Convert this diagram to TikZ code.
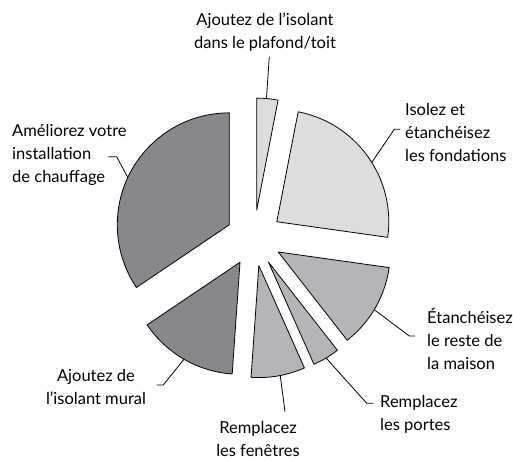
\documentclass[tikz,border=0pt]{standalone}
\usepackage{fontspec}
\setmainfont{Lato}
\usepackage{xcolor}
\usepackage{tikz}
\usetikzlibrary{calc}

\definecolor{pale}{HTML}{DCDDDF}
\definecolor{mid}{HTML}{B4B5B8}
\definecolor{dark}{HTML}{87888B}

\begin{document}
\begin{tikzpicture}[x=1pt,y=1pt,
		part/.style={draw=black,line width=0.8pt,line join=round},
		lead/.style={draw=black,line width=0.8pt},
		lbl/.style={inner sep=0pt,font=\fontsize{16.5}{23}\selectfont}]
		\useasboundingbox (0,0) rectangle (513,460);
		\def\rr{112}
		\coordinate (c) at (254,222);
		% each slice pulled 28 out along its middle
		\foreach \a/\b/\col/\n in {79/90/pale/plaf,-8/79/pale/fond,-52/-8/mid/reste,-66/-52/mid/port,-94/-66/mid/fen,-146/-94/dark/mur,90/214/dark/chauf}{
			\coordinate (\n) at ($(c)+({(\a+\b)/2}:28)$);
			\draw [part,fill=\col] (\n) -- ++(\a:\rr) arc [start angle=\a,end angle=\b,radius=\rr] -- cycle;
		}
		% labels
		\node [lbl,anchor=north,align=center] (tplaf) at (265,447.2) {Ajoutez de l’isolant\\dans le plafond/toit};
		\node [lbl,anchor=north west,align=left] (tfond) at (405,356.5) {Isolez et\\étanchéisez\\les fondations};
		\node [lbl,anchor=north west,align=left] (tchauf) at (12,335.9) {Améliorez votre\\installation\\de chauffage};
		\node [lbl,anchor=north west,align=left] (treste) at (427,152.2) {Étanchéisez\\le reste de\\la maison};
		\node [lbl,anchor=north west,align=left] (tport) at (380,64.5) {Remplacez\\les portes};
		\node [lbl,anchor=north,align=center] (tmur) at (96,90.5) {Ajoutez de\\l’isolant mural};
		\node [lbl,anchor=north,align=center] (tfen) at (258,38.9) {Remplacez\\les fenêtres};
		% leader lines
		\draw [lead] ($(plaf)+(85:\rr)$) -- (269.3,403.3);
		\draw [lead] ($(fond)+(32:\rr)$) -- (394.3,330.7) -- (400,330.7);
		\draw [lead] ($(reste)+(-31:\rr)$) -- (409.3,124) -- (415,124);
		\draw [lead] ($(port)+(-59:\rr)$) -- (366.7,56.7) -- (373.3,56.7);
		\draw [lead] ($(fen)+(-79:\rr)$) -- (285,48.3);
		\draw [lead] ($(mur)+(-120:\rr)$) -- (163.3,75) -- (156.7,75);
		\draw [lead] ($(chauf)+(155:\rr)$) -- (116.7,303.3) -- (108.3,303.3);
	\end{tikzpicture}
\end{document}
